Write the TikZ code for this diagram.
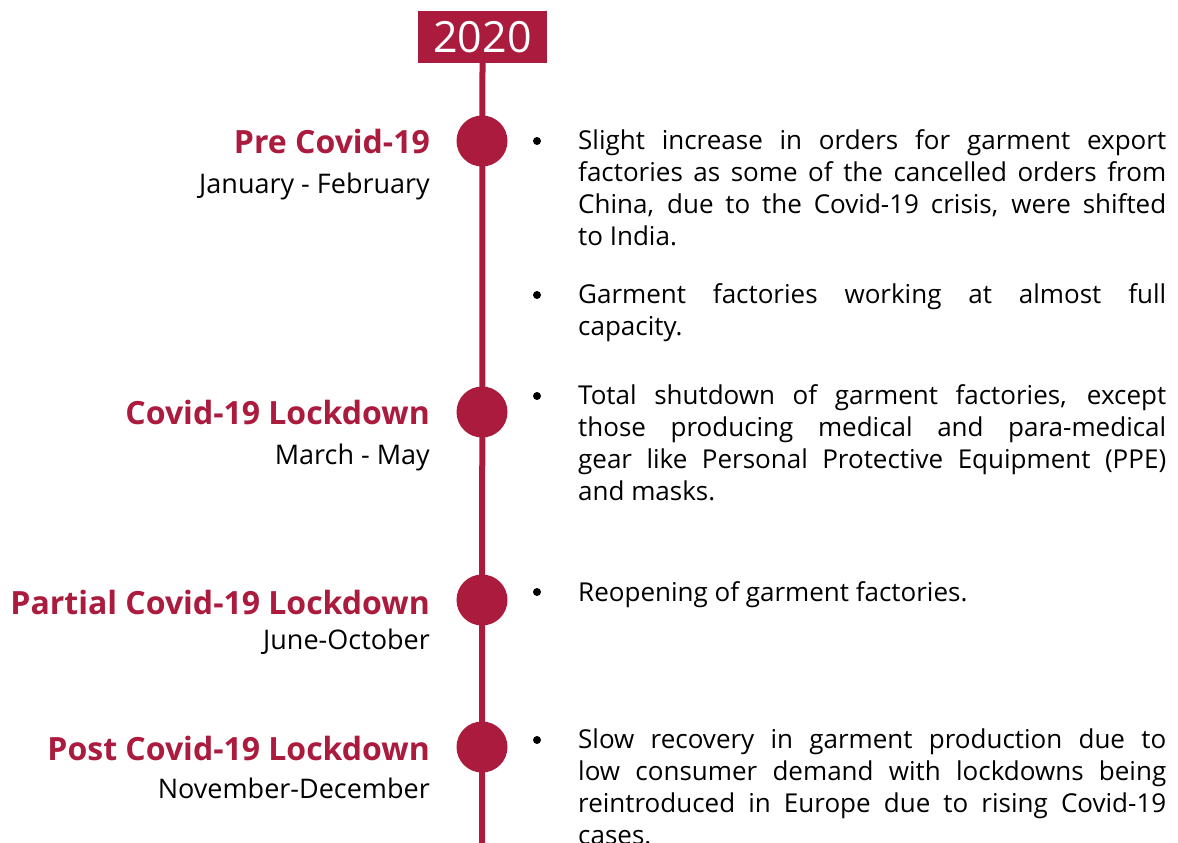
\documentclass[tikz,border=0pt]{standalone}
\usepackage{fontspec}
\setmainfont{Open Sans}
\usetikzlibrary{positioning}
\definecolor{crimson}{HTML}{AB1B3D}

\begin{document}
\begin{tikzpicture}[
  x=1pt,y=-1pt,
  spine/.style={draw=crimson,line width=6pt},
  yearbox/.style={fill=crimson,text=white,inner sep=0pt,
                  minimum width=129pt,minimum height=52pt,
                  font=\fontsize{43}{50}\selectfont},
  dot/.style={circle,fill=crimson,minimum size=51pt,inner sep=0pt},
  phasename/.style={anchor=base east,inner sep=0pt,text=crimson,
                    font=\bfseries\fontsize{32}{38}\selectfont},
  months/.style={anchor=base east,inner sep=0pt,
                 font=\fontsize{27}{32}\selectfont},
  bullet/.style={circle,fill=black,minimum size=8pt,inner sep=0pt},
  entry/.style={anchor=base west,inner sep=0pt,text width=588pt,
                align=justify,font=\fontsize{26}{32}\selectfont,
                execute at begin node={\hyphenpenalty=10000\relax
                  \exhyphenpenalty=10000\relax\tolerance=10000\relax}}
]
\fill[white] (0,0) rectangle (1178,843);
\useasboundingbox (0,0) rectangle (1178,843);

% year and spine
\node[yearbox] (year) at (482.5,37) {2020};
\coordinate (bottom) at (482,850);
\draw[spine] (year.south) -- (bottom);

% milestones on the spine
\node[dot] (pre) at (482,141) {};
\node[dot] (lock) at (482,412) {};
\node[dot] (partial) at (482,600) {};
\node[dot] (post) at (482,747) {};

% phase names and months
\node[phasename] (preName) at (430,153) {Pre Covid-19};
\node[months] (preTime) at (430,193) {January - February};
\node[phasename] (lockName) at (430,424) {Covid-19 Lockdown};
\node[months] (lockTime) at (430,464) {March - May};
\node[phasename] (partialName) at (430,614) {Partial Covid-19 Lockdown};
\node[months] (partialTime) at (430,649) {June-October};
\node[phasename] (postName) at (430,760) {Post Covid-19 Lockdown};
\node[months] (postTime) at (430,798) {November-December};

% bullet points
\node[bullet] (b1) at (537,141) {};
\node[entry] (t1) at (578,149) {Slight increase in orders for garment export
  \linebreak factories as some of the cancelled orders from
  \linebreak China, due to the Covid-19 crisis, were shifted
  \linebreak to India.};
\node[bullet] (b2) at (537,295) {};
\node[entry] (t2) at (578,303) {Garment factories working at almost full
  \linebreak capacity.};
\node[bullet] (b3) at (537,396) {};
\node[entry] (t3) at (578,404) {Total shutdown of garment factories, except
  \linebreak those producing medical and para-medical
  \linebreak gear like Personal Protective Equipment (PPE)
  \linebreak and masks.};
\node[bullet] (b4) at (537,592) {};
\node[entry] (t4) at (578,601) {Reopening of garment factories.};
\node[bullet] (b5) at (537,740) {};
\node[entry] (t5) at (578,748) {Slow recovery in garment production due to
  \linebreak low consumer demand with lockdowns being
  \linebreak reintroduced in Europe due to rising Covid-19
  \linebreak cases.};
\end{tikzpicture}
\end{document}
